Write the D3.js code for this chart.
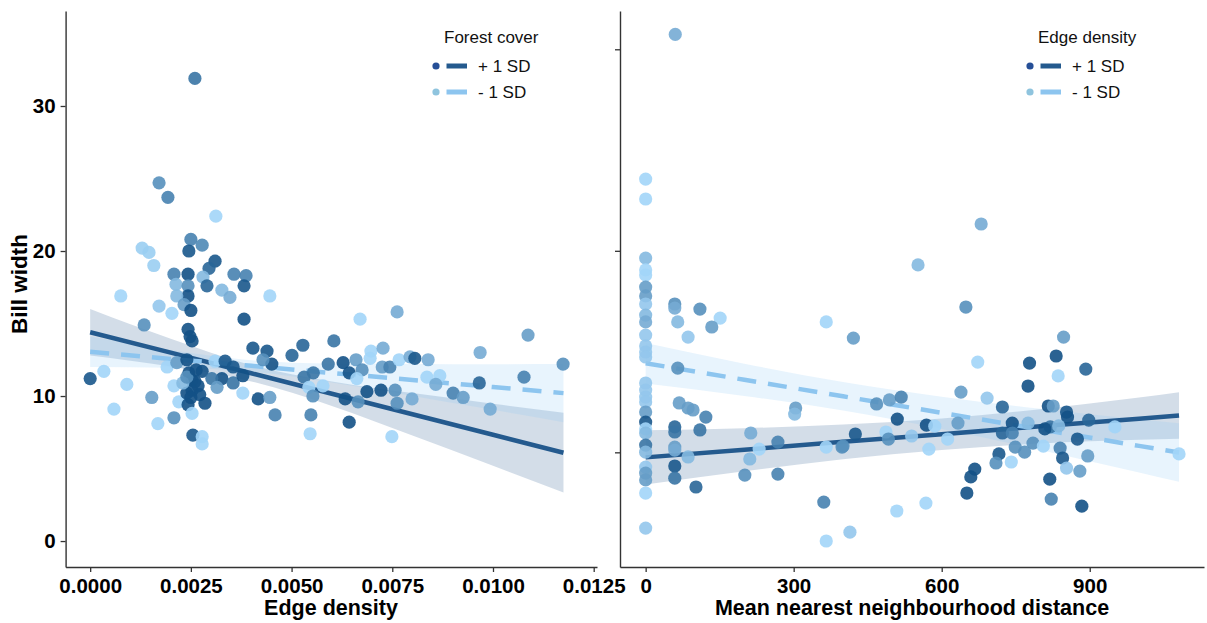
<!DOCTYPE html>
<html><head><meta charset="utf-8">
<script src="https://cdn.jsdelivr.net/npm/d3@7"></script>
<style>body{margin:0;background:#fff}</style>
</head><body><svg id="c" width="1207" height="623"></svg>
<script>
// ---------- DATA ----------
// Left panel: [edge density, bill width, forest-cover shade (0 = +SD dark, 1 = -SD light)]
const leftPoints = [
[0.00260,31.9,0.3],[0.00171,24.7,0.5],[0.00193,23.7,0.4],[0.00312,22.4,1.0],[0.00250,20.8,0.4],
[0.00278,20.4,0.45],[0.00245,20.0,0.1],[0.00129,20.2,0.95],[0.00146,19.9,0.95],[0.00158,19.0,0.95],
[0.00310,19.3,0.1],[0.00295,18.8,0.2],[0.00208,18.4,0.4],[0.00243,18.4,0.05],[0.00280,18.2,0.8],
[0.00357,18.4,0.4],[0.00387,18.3,0.4],[0.00382,17.6,0.1],[0.00290,17.6,0.2],[0.00213,17.7,0.8],
[0.00243,17.6,0.5],[0.00243,16.9,0.05],[0.00215,16.9,0.8],[0.00076,16.9,1.0],[0.00327,17.3,0.8],
[0.00347,16.8,0.7],[0.00446,16.9,1.0],[0.00171,16.2,0.9],[0.00233,16.3,0.6],[0.00250,15.9,0.05],
[0.00203,15.7,1.0],[0.00762,15.8,0.7],[0.00670,15.3,1.0],[0.00382,15.3,0.05],[0.00134,14.9,0.5],
[0.00243,14.6,0.05],[0.00248,14.1,0.05],[0.00253,13.8,0.05],[0.00000,11.2,0.1],[0.00034,11.7,1.0],
[0.00091,10.8,1.0],[0.00059,9.1,1.0],[0.00153,9.9,0.6],[0.00208,10.7,1.0],[0.00168,8.1,1.0],
[0.00208,8.5,0.5],[0.00220,9.6,1.0],[0.00243,9.4,0.05],[0.00285,9.5,0.05],[0.00253,8.8,1.0],
[0.00255,7.3,0.1],[0.00278,7.2,1.0],[0.00278,6.7,1.0],[0.00191,12.0,1.0],[0.00215,12.3,0.6],
[0.00240,12.5,0.05],[0.00245,11.6,0.05],[0.00253,11.1,0.05],[0.00260,11.0,0.05],[0.00240,10.2,0.05],
[0.00253,10.4,0.05],[0.00268,10.7,0.05],[0.00278,11.7,0.05],[0.00310,12.4,1.0],[0.00335,12.4,0.1],
[0.00355,12.0,0.1],[0.00327,11.2,0.05],[0.00302,11.2,0.3],[0.00315,10.6,0.6],[0.00355,10.9,0.3],
[0.00379,11.4,0.05],[0.00379,10.2,1.0],[0.00404,13.3,0.1],[0.00439,13.1,0.1],[0.00417,9.8,0.05],
[0.00230,10.9,0.8],[0.00240,11.3,0.5],[0.00605,13.8,0.3],[0.00528,13.5,0.2],[0.00501,12.8,0.2],
[0.00451,12.2,0.05],[0.00429,12.5,0.5],[0.00591,12.2,0.3],[0.00628,12.3,0.05],[0.00660,12.5,0.6],
[0.00697,13.1,1.0],[0.00727,13.3,0.7],[0.00695,12.6,1.0],[0.00675,11.8,0.5],[0.00643,11.6,0.05],
[0.00554,11.6,0.3],[0.00531,11.3,0.3],[0.00578,10.7,1.0],[0.00543,10.6,1.0],[0.00553,10.0,0.5],
[0.00662,11.2,1.0],[0.00725,12.0,0.6],[0.00744,12.0,0.4],[0.00767,12.5,1.0],[0.00794,12.7,0.7],
[0.00806,12.6,0.1],[0.00839,12.5,0.7],[0.00687,10.3,0.05],[0.00722,10.4,0.05],[0.00757,10.4,0.5],
[0.00762,9.5,0.5],[0.00799,9.8,0.7],[0.00633,9.8,0.05],[0.00665,9.6,0.5],[0.00836,11.3,1.0],
[0.00868,11.4,1.0],[0.00858,10.8,0.7],[0.00968,13.0,0.7],[0.00901,10.2,0.4],[0.00926,9.9,0.6],
[0.00966,10.9,0.2],[0.00993,9.1,0.7],[0.01087,14.2,0.6],[0.01077,11.3,0.4],[0.01174,12.2,0.5],
[0.00459,8.7,0.4],[0.00548,8.7,0.4],[0.00643,8.2,0.05],[0.00546,7.4,1.0],[0.00749,7.2,1.0],
[0.00446,9.9,0.6],[0.00263,11.8,0.05],[0.00272,10.1,0.05],[0.00250,9.9,0.05]
];
// Right panel: [mean nearest neighbour distance, bill width (partial), edge-density shade]
const rightPoints = [
[60,20.74,0.7],[0,13.56,1.0],[0,12.57,1.0],[680,11.33,0.7],[0,9.64,0.8],[0,9.05,1.0],[0,8.80,1.0],
[552,9.30,0.8],[0,8.20,0.6],[0,7.76,0.6],[59,7.36,0.5],[59,7.16,0.7],[110,7.11,0.5],[649,7.21,0.5],
[0,7.36,0.9],[151,6.66,1.0],[366,6.47,1.0],[65,6.47,0.8],[0,6.81,0.8],[0,6.47,0.7],[134,6.22,0.6],
[0,5.82,0.9],[86,5.72,0.9],[0,5.28,0.9],[0,4.98,0.9],[0,4.73,0.9],[65,4.18,0.5],[0,3.44,0.9],
[0,3.09,0.9],[0,2.74,0.9],[0,2.50,0.9],[0,2.00,0.6],[0,1.50,0.1],[0,1.16,1.0],[0,0.96,0.8],
[0,0.36,0.3],[0,0.01,0.8],[0,-0.73,0.9],[0,-1.03,0.6],[0,-1.37,0.6],[0,-2.02,1.0],[0,-3.76,0.9],
[68,2.45,0.6],[86,2.20,0.6],[96,2.10,0.6],[122,1.75,0.4],[59,1.26,0.2],[59,1.01,0.3],[110,1.11,0.3],
[59,0.26,0.6],[59,0.11,0.7],[86,-0.23,0.8],[59,-0.68,0.1],[59,-1.28,0.3],[102,-1.72,0.2],
[213,0.96,0.7],[268,0.51,0.4],[230,0.16,1.0],[211,-0.33,0.8],[304,2.20,0.6],[302,1.90,0.8],
[201,-1.13,0.5],[268,-1.08,0.4],[366,0.26,1.0],[398,0.26,0.5],[361,-2.47,0.4],[366,-4.40,1.0],
[414,-3.96,0.9],[421,5.67,0.6],[847,5.72,0.6],[832,4.78,0.05],[778,4.43,0.05],[673,4.48,1.0],
[836,3.79,1.0],[892,4.13,0.2],[775,3.29,0.05],[639,2.99,0.6],[692,2.69,0.9],[468,2.40,0.5],
[494,2.60,0.6],[518,2.74,0.4],[723,2.25,0.2],[816,2.30,0.05],[826,2.30,0.6],[853,2.00,0.1],
[855,1.75,0.05],[510,1.65,0.05],[569,1.35,0.05],[586,1.30,1.0],[633,1.45,0.6],[743,1.45,0.05],
[775,1.45,0.8],[898,1.60,0.2],[820,1.26,0.3],[809,1.16,0.05],[837,1.31,0.8],[951,1.26,1.0],
[723,0.96,0.2],[743,0.96,0.4],[425,0.91,0.1],[487,1.01,1.0],[539,0.81,0.9],[612,0.66,1.0],
[400,0.31,0.5],[492,0.66,0.5],[749,0.26,0.5],[785,0.46,0.5],[806,0.31,1.0],[840,0.21,0.4],
[875,0.66,0.1],[768,0.01,0.5],[896,-0.18,0.6],[1081,-0.08,1.0],[574,0.16,1.0],[716,-0.08,0.1],
[845,-0.28,0.1],[710,-0.53,0.5],[741,-0.48,1.0],[853,-0.78,0.9],[880,-0.93,0.6],[667,-0.83,0.05],
[659,-1.22,0.05],[651,-2.02,0.05],[819,-1.33,0.05],[822,-2.32,0.4],[884,-2.67,0.05],[568,-2.52,1.0],
[509,-2.91,1.0]
];

// Model fits
const leftFitX   = [0, 0.002, 0.004, 0.006, 0.008, 0.010, 0.01175];
const leftHighFit = [14.40, 12.99, 11.57, 10.16, 8.74, 7.33, 6.09];
const leftHighHW  = [1.60, 0.96, 0.56, 0.84, 1.46, 2.14, 2.75];
const leftLowFit  = [13.05, 12.56, 12.08, 11.59, 11.11, 10.62, 10.20];
const leftLowHW   = [1.05, 0.61, 0.39, 0.65, 1.10, 1.57, 2.00];

const rightFitX   = [0, 200, 400, 600, 800, 1000, 1081];
const rightHighFit = [-0.25, 0.13, 0.52, 0.90, 1.29, 1.67, 1.83];
const rightHighHW  = [1.35, 1.07, 0.86, 0.78, 0.85, 1.05, 1.15];
const rightLowFit  = [4.42, 3.60, 2.78, 1.96, 1.14, 0.32, -0.01];
const rightLowHW   = [1.00, 0.80, 0.71, 0.80, 1.02, 1.32, 1.45];

const leftXTicks = [0, 0.0025, 0.005, 0.0075, 0.01, 0.0125];
const leftYTicks = [0, 10, 20, 30];
const rightXTicks = [0, 300, 600, 900];
const rightYTicks = [0, 10, 20];
const legendLabels = ["+ 1 SD", "- 1 SD"];

// ---------- DRAW ----------
const svg = d3.select("#c");
const FONT = "'Liberation Sans', Arial, sans-serif";
const shade = d3.interpolateRgb("#0b4a80", "#a2d5f8");
const darkLine = "#245a8e", lightLine = "#8dc5ef";

const xL = d3.scaleLinear().domain([-0.00061, 0.012582]).range([65.6, 597]);
const yL = d3.scaleLinear().domain([-1.79, 36.55]).range([567, 11]);
const xR = d3.scaleLinear().domain([-52, 1131.6]).range([620, 1204]);
const yR = d3.scaleLinear().domain([-5.69, 21.9]).range([567, 11]);

function panel(xs, ys, pts, fitX, hi, hiHW, lo, loHW) {
  const g = svg.append("g");
  const band = (fit, hw) => d3.area().curve(d3.curveMonotoneX)
      .x((d, i) => xs(fitX[i])).y0((d, i) => ys(fit[i] - hw[i])).y1((d, i) => ys(fit[i] + hw[i]));
  g.append("path").datum(fitX).attr("d", band(hi, hiHW)).attr("fill", "#25578a").attr("fill-opacity", 0.2);
  g.append("path").datum(fitX).attr("d", band(lo, loHW)).attr("fill", "#8ecaf5").attr("fill-opacity", 0.2);
  const line = fit => d3.line().x((d, i) => xs(fitX[i])).y((d, i) => ys(fit[i]));
  g.append("path").datum(fitX).attr("d", line(hi)).attr("fill", "none")
    .attr("stroke", darkLine).attr("stroke-width", 4.5);
  g.append("path").datum(fitX).attr("d", line(lo)).attr("fill", "none")
    .attr("stroke", lightLine).attr("stroke-width", 4.5).attr("stroke-dasharray", "19,12");
  g.selectAll("circle.pt").data(pts).join("circle").attr("class", "pt")
    .attr("cx", d => xs(d[0])).attr("cy", d => ys(d[1])).attr("r", 6.6)
    .attr("fill", d => shade(d[2])).attr("fill-opacity", 0.9);
}
panel(xL, yL, leftPoints, leftFitX, leftHighFit, leftHighHW, leftLowFit, leftLowHW);
panel(xR, yR, rightPoints, rightFitX, rightHighFit, rightHighHW, rightLowFit, rightLowHW);

function styleAxis(g) {
  g.selectAll(".domain").attr("stroke", "#333").attr("stroke-width", 1.4);
  g.selectAll(".tick line").attr("stroke", "#333").attr("stroke-width", 1.3);
  g.selectAll("text").attr("font-family", FONT).attr("font-weight", "bold")
    .attr("font-size", 20.5).attr("fill", "#000");
}
const fmtL = d3.format(".4f");
svg.append("g").attr("transform", "translate(0,567)")
  .call(d3.axisBottom(xL).tickValues(leftXTicks).tickFormat(fmtL).tickSize(5).tickSizeOuter(0).tickPadding(6))
  .call(styleAxis);
svg.append("g").attr("transform", "translate(65.6,0)")
  .call(d3.axisLeft(yL).tickValues(leftYTicks).tickSize(5).tickSizeOuter(0).tickPadding(5))
  .call(styleAxis);
svg.append("g").attr("transform", "translate(0,567)")
  .call(d3.axisBottom(xR).tickValues(rightXTicks).tickFormat(d3.format("d")).tickSize(5).tickSizeOuter(0).tickPadding(6))
  .call(styleAxis);
svg.append("g").attr("transform", "translate(620,0)")
  .call(d3.axisLeft(yR).tickValues(rightYTicks).tickFormat("").tickSize(5).tickSizeOuter(0))
  .call(styleAxis);

// Axis titles
svg.append("text").attr("x", 331).attr("y", 615).attr("text-anchor", "middle")
  .attr("font-family", FONT).attr("font-weight", "bold").attr("font-size", 21.5).text("Edge density");
svg.append("text").attr("x", 912).attr("y", 615).attr("text-anchor", "middle")
  .attr("font-family", FONT).attr("font-weight", "bold").attr("font-size", 21.5).text("Mean nearest neighbourhood distance");
svg.append("text").attr("transform", "translate(27,284) rotate(-90)").attr("text-anchor", "middle")
  .attr("font-family", FONT).attr("font-weight", "bold").attr("font-size", 22.5).text("Bill width");

// Legends
function legend(x0, title) {
  const g = svg.append("g");
  g.append("text").attr("x", x0 + 8).attr("y", 43).attr("font-family", FONT).attr("font-size", 17)
    .attr("fill", "#111").text(title);
  const dotCol = ["#264f97", "#8fc4de"], lineCol = [darkLine, lightLine];
  legendLabels.forEach((lab, i) => {
    const cy = 66 + i * 26;
    g.append("circle").attr("cx", x0).attr("cy", cy).attr("r", 3.6).attr("fill", dotCol[i]);
    g.append("line").attr("x1", x0 + 10.5).attr("x2", x0 + 31).attr("y1", cy).attr("y2", cy)
      .attr("stroke", lineCol[i]).attr("stroke-width", 5);
    g.append("text").attr("x", x0 + 42).attr("y", cy + 6).attr("font-family", FONT).attr("font-size", 17)
      .attr("fill", "#111").text(lab);
  });
}
legend(436, "Forest cover");
legend(1030, "Edge density");
</script>
</body></html>
